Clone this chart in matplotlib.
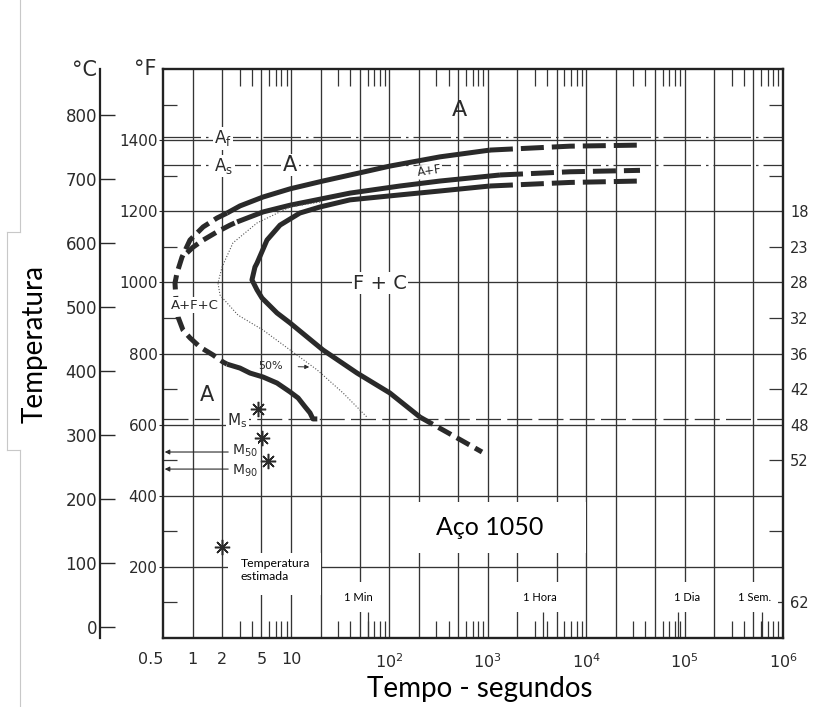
import matplotlib
matplotlib.use('Agg')
import matplotlib.pyplot as plt
from matplotlib.patches import Rectangle
from matplotlib.lines import Line2D
from matplotlib.ticker import FixedLocator, NullFormatter

# ---------------- data: time in s, temperature in degF ----------------
# outer start curve: solid upper arm, dashed nose, solid lower arm, dashed tail
outer_top_t = [2.24, 3.03, 5.19, 9.77, 21.1, 50, 101, 327, 1050]
outer_top_T = [1195, 1215, 1240, 1263, 1285, 1308, 1327, 1353, 1372]
outer_tail_t = [1050, 6840, 35200]
outer_tail_T = [1372, 1383, 1386]
outer_nose_t = [2.24, 1.77, 1.28, 0.94, 0.78, 0.693, 0.662, 0.678, 0.71, 0.798,
                0.94, 1.19, 1.61, 2.04, 2.24]
outer_nose_T = [1195, 1181, 1156, 1119, 1071, 1026, 998, 950, 903, 866,
                844, 818, 796, 776, 770]
outer_low_t = [2.24, 3.03, 3.83, 5.19, 7.2, 9.77, 11.8, 13.9, 15.6, 16.7, 18.5]
outer_low_T = [770, 759, 745, 734, 717, 692, 675, 650, 633, 616, 616]

# middle curve
middle_nose_t = [0.877, 1.01, 1.28, 1.77, 2.40, 2.83]
middle_nose_T = [1083, 1099, 1119, 1142, 1161, 1170]
middle_t = [2.83, 5.19, 9.77, 19.7, 39.7, 128, 327, 1330]
middle_T = [1170, 1198, 1217, 1234, 1251, 1271, 1285, 1302]
middle_tail_t = [1330, 6840, 35200]
middle_tail_T = [1302, 1311, 1315]

# inner C curve
inner_t = [205, 101, 46.9, 21.1, 9.77, 7.2, 5.70, 5.07, 4.51, 4.01,
           4.30, 4.51, 5.70, 7.73, 12.3, 19.7, 39.7, 128, 327, 1050]
inner_T = [621, 689, 745, 810, 886, 914, 942, 956, 979, 1007,
           1043, 1054, 1119, 1161, 1195, 1212, 1232, 1246, 1257, 1271]
inner_tail_t = [1050, 6840, 35200]
inner_tail_T = [1271, 1281, 1285]
inner_low_t = [205, 400, 873]
inner_low_T = [621, 576, 523]

# 50 % transformation (dotted)
half_t = [19.7, 9.77, 4.51, 2.57, 1.99, 1.81, 1.90, 2.89, 5.19, 9.77, 18.4, 33.8, 59.2]
half_T = [1226, 1212, 1167, 1111, 1043, 998, 964, 908, 866, 810, 754, 689, 621]

# critical temperatures
Af, As, Ms = 1410, 1330, 616
M50, M90 = 523, 475

# estimated martensite temperatures (asterisks)
star_t = [4.61, 5.07, 5.83]
star_T = [644, 562, 498]
legend_star = (2.0, 256)

# axes
grid_t = [1, 2, 5, 10, 20, 50, 100, 200, 500, 1e3, 2e3, 5e3,
          1e4, 2e4, 5e4, 1e5, 2e5, 5e5]
grid_T = [200, 400, 600, 800, 1000, 1200, 1400]
minor_t = [m * 10 ** k for k in range(0, 6) for m in (3, 4, 6, 7, 8, 9)]
mark_t = [60, 3600, 86400, 604800]
xtick_t = [0.5, 1, 2, 5, 10, 1e2, 1e3, 1e4, 1e5, 1e6]
xtick_lab = ['0.5', '1', '2', '5', '10', '$10^2$', '$10^3$', '$10^4$', '$10^5$', '$10^6$']
ytick_F = [200, 400, 600, 800, 1000, 1200, 1400]
yminor_F = [100, 300, 500, 700, 900, 1100, 1300, 1500]
ytick_C = [0, 100, 200, 300, 400, 500, 600, 700, 800]
rc_T = [1200, 1100, 1000, 900, 800, 700, 600, 500, 100]
rc_lab = ['18', '23', '28', '32', '36', '42', '48', '52', '62']

unit_t = [48, 3400, 1.06e5, 5.2e5]
unit_lab = ['1 Min', '1 Hora', '1 Dia', '1 Sem.']

W, H = 815, 707
INK = '#2a2a2a'
GRID = '#353535'
SANS = ['Lato', 'DejaVu Sans']


def f2c(f):
    return (f - 32) * 5 / 9


def c2f(c):
    return c * 9 / 5 + 32


def px_rect(ax, x0, y0, x1, y1):
    # white patch given in pixel coordinates (y downwards)
    r = Rectangle((x0 / W, 1 - y1 / H), (x1 - x0) / W, (y1 - y0) / H,
                  transform=ax.figure.transFigure, facecolor='white',
                  edgecolor='none', zorder=2)
    ax.add_patch(r)


fig = plt.figure(figsize=(W / 100, H / 100), dpi=100)
ax = fig.add_axes([163 / W, 1 - 638 / H, 620 / W, 569 / H])
ax.set_xscale('log')
ax.set_xlim(0.5, 1e6)
ax.set_ylim(0, 1600)

ax.vlines(grid_t, 0, 1600, colors=GRID, lw=0.95, zorder=1)
ax.hlines(grid_T, 0.5, 1e6, colors=GRID, lw=0.95, zorder=1)

# transformation lines
ax.axhline(Af, color=GRID, lw=0.9, dashes=(30, 4, 2, 4), zorder=1)
ax.axhline(As, color=GRID, lw=0.9, dashes=(30, 4, 2, 4), zorder=1)
ax.axhline(Ms, color=GRID, lw=0.9, dashes=(20, 5), zorder=1)

# blank areas behind the added captions
for b in [(394, 502, 586, 553), (228, 553, 321, 595), (338, 582, 382, 612),
          (500, 582, 582, 612), (664, 582, 710, 612), (730, 582, 778, 612)]:
    px_rect(ax, *b)

thick = dict(color=INK, lw=3.6, solid_capstyle='butt', solid_joinstyle='round',
             zorder=3)
dash = (2.9, 1.3)
tail = (4.6, 1.6)
ax.plot(outer_top_t, outer_top_T, **thick)
ax.plot(outer_nose_t, outer_nose_T, dashes=dash, **thick)
ax.plot(outer_low_t, outer_low_T, **thick)
ax.plot(outer_tail_t, outer_tail_T, dashes=tail, **thick)
ax.plot(middle_nose_t, middle_nose_T, dashes=dash, **thick)
ax.plot(middle_t, middle_T, **thick)
ax.plot(middle_tail_t, middle_tail_T, dashes=tail, **thick)
ax.plot(inner_t, inner_T, **thick)
ax.plot(inner_tail_t, inner_tail_T, dashes=tail, **thick)
ax.plot(inner_low_t, inner_low_T, dashes=dash, **thick)
ax.plot(half_t, half_T, color='#555555', lw=0.8, ls=(0, (1, 1.6)), zorder=3)

ax.plot(star_t, star_T, ls='none', marker=(8, 2, 0), ms=11, mew=1.1,
        color=INK, zorder=4)
ax.plot(*legend_star, ls='none', marker=(8, 2, 0), ms=11, mew=1.1,
        color=INK, zorder=4)

# region and line labels
wb = dict(facecolor='white', edgecolor='none', pad=1.0)
ax.text(521, 1485, 'A', fontsize=16, ha='center', va='center', color=INK, zorder=5)
ax.text(2.04, 1405, r'A$_\mathrm{f}$', fontsize=12, ha='center', va='center',
        color=INK, bbox=wb, zorder=5)
ax.text(2.08, 1327, r'A$_\mathrm{s}$', fontsize=12, ha='center', va='center',
        color=INK, bbox=wb, zorder=5)
ax.text(9.77, 1330, 'A', fontsize=15, ha='center', va='center', color=INK,
        bbox=wb, zorder=5)
ax.text(258, 1313, 'A+F', fontsize=8.5, ha='center', va='center', rotation=8,
        color=INK, bbox=dict(facecolor='white', edgecolor='none', pad=0.3), zorder=5)
ax.text(80, 998, 'F + C', fontsize=14, ha='center', va='center', color=INK,
        bbox=wb, zorder=5)
ax.text(1.06, 936, 'A+F+C', fontsize=9.5, ha='center', va='center', color=INK,
        bbox=wb, zorder=5)
ax.text(1.40, 683, 'A', fontsize=15, ha='center', va='center', color=INK, zorder=5)
ax.text(2.83, 610, r'M$_\mathrm{s}$', fontsize=11, ha='center', va='center',
        color=INK, bbox=wb, zorder=5)
sb = dict(facecolor='white', edgecolor='none', pad=0.2)
ax.text(3.40, M50 + 4, r'M$_{50}$', fontsize=10, ha='center', va='center',
        color=INK, bbox=sb, zorder=5)
ax.text(3.40, M90 - 4, r'M$_{90}$', fontsize=10, ha='center', va='center',
        color=INK, bbox=sb, zorder=5)
for T in (M50, M90):
    ax.annotate('', xy=(0.52, T), xytext=(2.3, T),
                arrowprops=dict(arrowstyle='-|>', lw=0.8, color=INK,
                                mutation_scale=7, shrinkA=0, shrinkB=0), zorder=4)
ax.annotate('50%', xy=(15.3, 762), xytext=(6.2, 765), fontsize=8, color=INK,
            ha='center', va='center', zorder=5,
            arrowprops=dict(arrowstyle='-|>', lw=0.7, color=INK,
                            mutation_scale=6, shrinkA=9, shrinkB=0))

# captions added on top of the chart
ax.text(1052, 312, 'Aço 1050', fontsize=18, ha='center', va='center',
        family=SANS, zorder=5)
ax.text(3.10, 191, 'Temperatura\nestimada', fontsize=8.8, ha='left', va='center',
        linespacing=1.3, family=SANS, zorder=5)
for t, lab in zip(unit_t, unit_lab):
    ax.text(t, 115, lab, fontsize=8, ha='center', va='center', family=SANS,
            zorder=5)

# x axis
ax.set_xticks(xtick_t, labels=xtick_lab)
ax.get_xticklabels()[0].set_horizontalalignment('right')
ax.xaxis.set_minor_locator(FixedLocator(minor_t))
ax.xaxis.set_minor_formatter(NullFormatter())
ax.tick_params(axis='x', which='major', length=0, pad=10, labelsize=11.5,
               labelcolor=INK)
ax.tick_params(axis='x', which='minor', direction='in', length=12.5, width=0.9,
               top=True, bottom=True, color=GRID)
ax.vlines(mark_t, 0, 26 / 569, transform=ax.get_xaxis_transform(),
          colors=GRID, lw=0.9, zorder=1)

# degF axis
ax.set_yticks(ytick_F)
ax.yaxis.set_minor_locator(FixedLocator(yminor_F))
ax.tick_params(axis='y', which='major', direction='out', length=3, pad=1,
               labelsize=11, labelcolor=INK, color=INK)
ax.tick_params(axis='y', which='minor', direction='in', length=10, width=0.9,
               left=True, right=True, color=GRID)
for s in ax.spines.values():
    s.set_linewidth(1.7)
    s.set_color('#222222')

# degC axis
cax = ax.secondary_yaxis(-63 / 620, functions=(f2c, c2f))
cax.set_yticks(ytick_C)
cax.tick_params(direction='in', length=11, width=1.0, pad=2, labelsize=12,
                labelcolor=INK, color=INK)
cax.spines['left'].set_linewidth(1.6)
cax.spines['left'].set_color('#222222')

# hardness (Rc) on the right
rax = ax.secondary_yaxis('right')
rax.set_yticks(rc_T, labels=rc_lab)
rax.tick_params(length=0, pad=5, labelsize=10.5, labelcolor=INK)
rax.spines['right'].set_visible(False)

fig.text(84 / W, 1 - 70 / H, '°C', fontsize=15, ha='center', va='center', color=INK)
fig.text(145 / W, 1 - 69 / H, '°F', fontsize=15, ha='center', va='center', color=INK)

fig.text(35 / W, 1 - 344 / H, 'Temperatura', rotation=90, fontsize=20,
         ha='center', va='center', family=SANS)
fig.text(480 / W, 1 - 689 / H, 'Tempo - segundos', fontsize=20,
         ha='center', va='center', family=SANS)

# page edge and caption box outline
edge = [((20, 20), (0, 232)), ((7, 20), (232, 232)), ((7, 7), (232, 450)),
        ((7, 20), (450, 450)), ((20, 20), (450, 707))]
for xs, ys in edge:
    fig.add_artist(Line2D([x / W for x in xs], [1 - y / H for y in ys],
                          color='#c8c8c8', lw=0.8))

fig.savefig('out.png', dpi=100)
